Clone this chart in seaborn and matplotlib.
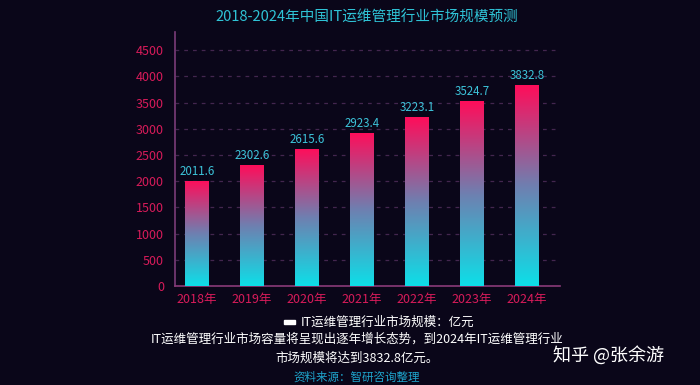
import numpy as np
import pandas as pd
import matplotlib
matplotlib.use('Agg')
import matplotlib.pyplot as plt
from matplotlib.colors import LinearSegmentedColormap
import seaborn as sns

years = ['2018年', '2019年', '2020年', '2021年', '2022年', '2023年', '2024年']
market_size = [2011.6, 2302.6, 2615.6, 2923.4, 3223.1, 3524.7, 3832.8]
y_ticks = [0, 500, 1000, 1500, 2000, 2500, 3000, 3500, 4000, 4500]

title = '2018-2024年中国IT运维管理行业市场规模预测'
legend_label = 'IT运维管理行业市场规模：亿元'
note = 'IT运维管理行业市场容量将呈现出逐年增长态势，到2024年IT运维管理行业\n市场规模将达到3832.8亿元。'
source = '资料来源：智研咨询整理'
watermark = '知乎 @张余游'

bg = '#0a0619'
pink = '#ff0d5a'
cyan = '#0ddfe8'

sns.set_style('dark')
plt.rcParams['font.family'] = ['Noto Sans CJK SC', 'DejaVu Sans']

df = pd.DataFrame({'year': years, 'size': market_size})

fig = plt.figure(figsize=(7, 3.85), dpi=100, facecolor=bg)
ax = fig.add_axes([0.25, 0.257, 0.55, 0.66])
ax.set_facecolor(bg)

sns.barplot(data=df, x='year', y='size', ax=ax, width=0.42, color=cyan,
            edgecolor='none', zorder=3)

# gradient fill for every bar: pink at the top, cyan at the bottom
cmap = LinearSegmentedColormap.from_list('pc', [cyan, '#6f7fb0', pink])
grad = np.linspace(0, 1, 256).reshape(-1, 1)
for p in ax.patches:
    x0, w, h = p.get_x(), p.get_width(), p.get_height()
    im = ax.imshow(grad, cmap=cmap, aspect='auto', origin='lower',
                   extent=[x0, x0 + w, 0, h], zorder=4)
    im.set_clip_path(p)
    ax.text(x0 + w / 2, h + 60, f'{h:.1f}', ha='center', va='bottom',
            color='#3cc3d9', fontsize=8.3, zorder=5)

ax.set_xlim(-0.4, 6.6)
ax.set_ylim(0, 4850)
ax.set_yticks(y_ticks)
ax.set_xlabel('')
ax.set_ylabel('')
ax.tick_params(axis='y', colors='#d81b5a', labelsize=9, length=0, pad=8)
ax.tick_params(axis='x', colors='#d81b5a', labelsize=9, length=0, pad=5)
for t in ax.get_yticklabels():
    t.set_color('#d81b5a')
for t in ax.get_xticklabels():
    t.set_color('#d81b5a')

ax.yaxis.grid(True, linestyle=(0, (3, 4)), color='#43264f', linewidth=0.9, zorder=0)
ax.xaxis.grid(False)
for s in ['top', 'right']:
    ax.spines[s].set_visible(False)
ax.spines['left'].set_color('#7a3c78')
ax.spines['bottom'].set_color('#8a3a78')
ax.spines['left'].set_linewidth(1.2)
ax.spines['bottom'].set_linewidth(1.2)

fig.text(0.524, 0.955, title, ha='center', va='center', color='#2fc3d6',
         fontsize=10.5, fontweight='medium')

# legend row
fig.patches.append(plt.Rectangle((0.406, 0.158), 0.016, 0.012, color='white',
                                 transform=fig.transFigure, figure=fig))
fig.text(0.43, 0.163, legend_label, ha='left', va='center', color='white', fontsize=9)
fig.text(0.51, 0.094, note, ha='center', va='center', color='white', fontsize=9,
         linespacing=1.6)
fig.text(0.51, 0.021, source, ha='center', va='center', color='#1ea4cc', fontsize=8.3)
fig.text(0.79, 0.078, watermark, ha='left', va='center', color='white', fontsize=13)

fig.savefig('out.png', dpi=100, facecolor=bg)
